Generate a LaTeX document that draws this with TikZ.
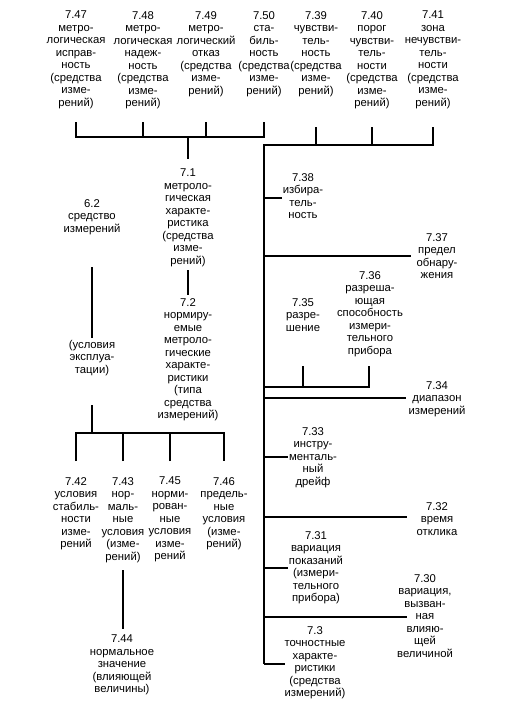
\documentclass[tikz,border=0pt]{standalone}
\usepackage{fontspec}
\setmainfont{Liberation Sans}
\begin{document}
\begin{tikzpicture}[x=1pt,y=-1pt,
  lbl/.style={anchor=north,align=center,inner sep=0pt,font=\fontsize{11.3}{12.5}\selectfont},
  conn/.style={line width=1.3pt}]
\useasboundingbox[fill=white] (0,0) rectangle (519,710);
% top row
\node[lbl] (n47) at (76,11) {7.47\\метро-\\логическая\\исправ-\\ность\\(средства\\изме-\\рений)};
\node[lbl] (n48) at (143,11) {7.48\\метро-\\логическая\\надеж-\\ность\\(средства\\изме-\\рений)};
\node[lbl] (n49) at (206,11) {7.49\\метро-\\логический\\отказ\\(средства\\изме-\\рений)};
\node[lbl] (n50) at (264,11) {7.50\\ста-\\биль-\\ность\\(средства\\изме-\\рений)};
\node[lbl] (n39) at (316,11) {7.39\\чувстви-\\тель-\\ность\\(средства\\изме-\\рений)};
\node[lbl] (n40) at (372,11) {7.40\\порог\\чувстви-\\тель-\\ности\\(средства\\изме-\\рений)};
\node[lbl] (n41) at (433,11) {7.41\\зона\\нечувстви-\\тель-\\ности\\(средства\\изме-\\рений)};
% left column
\node[lbl] (n71) at (188,169) {7.1\\метроло-\\гическая\\характе-\\ристика\\(средства\\изме-\\рений)};
\node[lbl] (n72) at (188,298) {7.2\\нормиру-\\емые\\метроло-\\гические\\характе-\\ристики\\(типа\\средства\\измерений)};
\node[lbl] (n62) at (92,199) {6.2\\средство\\измерений};
\node[lbl] (nexp) at (92,340) {(условия\\эксплуа-\\тации)};
\node[lbl] (n42) at (76,477) {7.42\\условия\\стабиль-\\ности\\изме-\\рений};
\node[lbl] (n43) at (123,477) {7.43\\нор-\\маль-\\ные\\условия\\(изме-\\рений)};
\node[lbl] (n45) at (170,477) {7.45\\норми-\\рован-\\ные\\условия\\изме-\\рений};
\node[lbl] (n46) at (224,477) {7.46\\предель-\\ные\\условия\\(изме-\\рений)};
\node[lbl] (n44) at (122,635) {7.44\\нормальное\\значение\\(влияющей\\величины)};
% right column
\node[lbl] (n38) at (303,173) {7.38\\избира-\\тель-\\ность};
\node[lbl] (n37) at (437,233) {7.37\\предел\\обнару-\\жения};
\node[lbl] (n36) at (370,271) {7.36\\разреша-\\ющая\\способность\\измери-\\тельного\\прибора};
\node[lbl] (n35) at (303,298) {7.35\\разре-\\шение};
\node[lbl] (n34) at (437,381) {7.34\\диапазон\\измерений};
\node[lbl] (n33) at (313,427) {7.33\\инстру-\\менталь-\\ный\\дрейф};
\node[lbl] (n32) at (437,502) {7.32\\время\\отклика};
\node[lbl] (n31) at (316,531) {7.31\\вариация\\показаний\\(измери-\\тельного\\прибора)};
\node[lbl] (n30) at (425,574) {7.30\\вариация,\\вызван-\\ная\\влияю-\\щей\\величиной};
\node[lbl] (n3) at (315,626) {7.3\\точностные\\характе-\\ристики\\(средства\\измерений)};
% coordinates for connector ends
\coordinate (t47) at (76,122);
\coordinate (t48) at (143,122);
\coordinate (t49) at (206,122);
\coordinate (t50) at (264,122);
\coordinate (bl) at (76,137);
\coordinate (br) at (264,137);
\coordinate (t71a) at (188,137);
\coordinate (t71b) at (188,159);
\coordinate (t39) at (316,127);
\coordinate (t40) at (372,127);
\coordinate (t41) at (433,127);
\coordinate (sp0) at (264,145);
\coordinate (spE) at (264,664);
\coordinate (e38) at (282,198);
\coordinate (e37) at (411,256);
\coordinate (e35) at (303,366);
\coordinate (e36) at (369,366);
\coordinate (b3536) at (369,387);
\coordinate (e34) at (406,398);
\coordinate (e33) at (288,457);
\coordinate (e32) at (407,517);
\coordinate (e31) at (288,568);
\coordinate (e30) at (407,617);
\coordinate (e3) at (285,664);
\coordinate (c71) at (188,270);
\coordinate (c72) at (188,295);
\coordinate (c62) at (92,267);
\coordinate (cexp1) at (92,338);
\coordinate (cexp2) at (92,405);
\coordinate (bb) at (92,433);
\coordinate (bb42) at (76,433);
\coordinate (bb46) at (224,433);
\coordinate (d42) at (76,461);
\coordinate (d43) at (123,461);
\coordinate (d45) at (170,461);
\coordinate (d46) at (224,461);
\coordinate (c43) at (123,570);
\coordinate (c44) at (123,629);
% top-left bracket
\draw[conn] (t47) -- (bl) -- (br) -- (t50);
\draw[conn] (t48) -- (t48 |- bl);
\draw[conn] (t49) -- (t49 |- bl);
\draw[conn] (t71a) -- (t71b);
% top-right bracket and spine
\draw[conn] (t41) |- (sp0) -- (spE);
\draw[conn] (t39) -- (t39 |- sp0);
\draw[conn] (t40) -- (t40 |- sp0);
\draw[conn] (e38 -| sp0) -- (e38);
\draw[conn] (e37 -| sp0) -- (e37);
\draw[conn] (b3536 -| sp0) -- (b3536) -- (e36);
\draw[conn] (e35) -- (e35 |- b3536);
\draw[conn] (e34 -| sp0) -- (e34);
\draw[conn] (e33 -| sp0) -- (e33);
\draw[conn] (e32 -| sp0) -- (e32);
\draw[conn] (e31 -| sp0) -- (e31);
\draw[conn] (e30 -| sp0) -- (e30);
\draw[conn] (spE) -- (e3);
% left connectors
\draw[conn] (c71) -- (c72);
\draw[conn] (c62) -- (cexp1);
\draw[conn] (cexp2) -- (bb);
\draw[conn] (d42) -- (bb42) -- (bb46) -- (d46);
\draw[conn] (d43) -- (d43 |- bb);
\draw[conn] (d45) -- (d45 |- bb);
\draw[conn] (c43) -- (c44);
\end{tikzpicture}
\end{document}
